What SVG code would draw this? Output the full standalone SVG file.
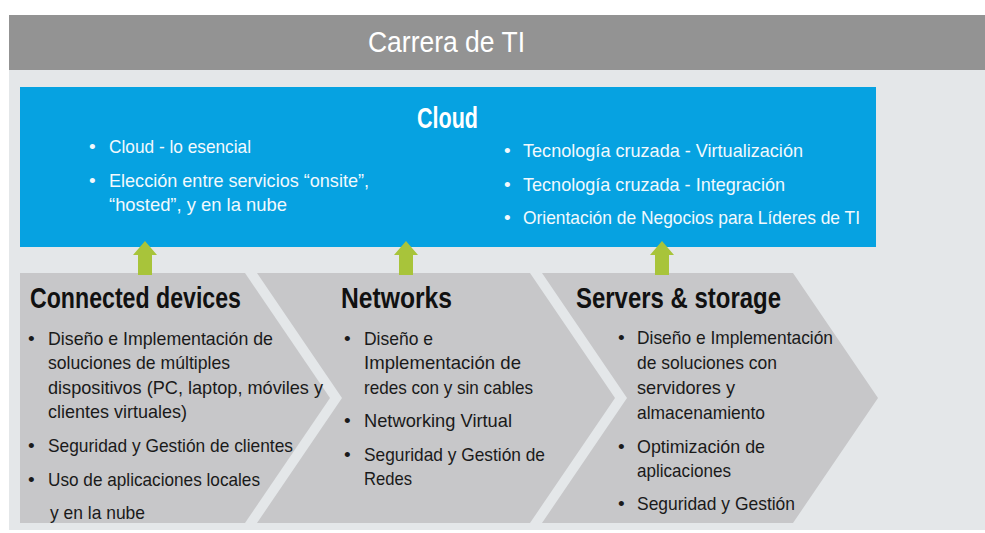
<svg xmlns="http://www.w3.org/2000/svg" width="985" height="533" viewBox="0 0 985 533">
<style>
.hdr{font-family:"Liberation Sans",Arial,sans-serif;fill:#ffffff;font-size:30px}
.h1{font-family:"Liberation Sans",Arial,sans-serif;font-weight:bold;fill:#ffffff;font-size:29px}
.h2{font-family:"Liberation Sans",Arial,sans-serif;font-weight:bold;fill:#111111;font-size:30px}
.w{font-family:"Liberation Sans",Arial,sans-serif;fill:#f2f9fd;font-size:19px}
.b{font-family:"Liberation Sans",Arial,sans-serif;fill:#1a1a1a;font-size:19px}
.chev{fill:#c7c7c9}
.arr{fill:#a8c43a}
</style>
<rect x="0" y="0" width="985" height="533" fill="#ffffff"/>
<rect x="9" y="70" width="976" height="460" fill="#e4e7e9"/>
<g id="header">
<rect x="9" y="15" width="976" height="55" fill="#939393"/>
<text class="hdr" x="368" y="52" textLength="157" lengthAdjust="spacingAndGlyphs">Carrera de TI</text>
</g>
<g id="cloud">
<rect x="20" y="87" width="856" height="160" fill="#06a2e1"/>
<text class="h1" x="417" y="128" textLength="61" lengthAdjust="spacingAndGlyphs">Cloud</text>
<text class="w" x="89" y="153">•</text>
<text class="w" x="109" y="153" textLength="142" lengthAdjust="spacingAndGlyphs">Cloud - lo esencial</text>
<text class="w" x="89" y="187">•</text>
<text class="w" x="109" y="187" textLength="260" lengthAdjust="spacingAndGlyphs">Elección entre servicios “onsite”,</text>
<text class="w" x="109" y="211" textLength="178" lengthAdjust="spacingAndGlyphs">“hosted”, y en la nube</text>
<text class="w" x="504" y="157">•</text>
<text class="w" x="523" y="157" textLength="280" lengthAdjust="spacingAndGlyphs">Tecnología  cruzada  - Virtualización</text>
<text class="w" x="504" y="191">•</text>
<text class="w" x="523" y="191" textLength="262" lengthAdjust="spacingAndGlyphs">Tecnología  cruzada  - Integración</text>
<text class="w" x="504" y="224">•</text>
<text class="w" x="523" y="224" textLength="337" lengthAdjust="spacingAndGlyphs">Orientación  de Negocios para Líderes de TI</text>
</g>
<g id="connected-devices">
<polygon class="chev" points="20,273 245,273 330,398 245,523 20,523"/>
<text class="h2" x="30" y="308" textLength="211" lengthAdjust="spacingAndGlyphs">Connected devices</text>
<text class="b" x="28" y="345">•</text>
<text class="b" x="48" y="345" textLength="225" lengthAdjust="spacingAndGlyphs">Diseño e Implementación  de</text>
<text class="b" x="48" y="369" textLength="182" lengthAdjust="spacingAndGlyphs">soluciones de múltiples</text>
<text class="b" x="48" y="394" textLength="275" lengthAdjust="spacingAndGlyphs">dispositivos (PC, laptop, móviles y</text>
<text class="b" x="48" y="418" textLength="139" lengthAdjust="spacingAndGlyphs">clientes virtuales)</text>
<text class="b" x="28" y="452">•</text>
<text class="b" x="48" y="452" textLength="245" lengthAdjust="spacingAndGlyphs">Seguridad y Gestión de clientes</text>
<text class="b" x="28" y="486">•</text>
<text class="b" x="48" y="486" textLength="212" lengthAdjust="spacingAndGlyphs">Uso de aplicaciones  locales</text>
<text class="b" x="50" y="519" textLength="95" lengthAdjust="spacingAndGlyphs">y en la nube</text>
</g>
<g id="networks">
<polygon class="chev" points="257,273 530,273 615,398 530,523 257,523 342,398"/>
<text class="h2" x="341" y="308" textLength="111" lengthAdjust="spacingAndGlyphs">Networks</text>
<text class="b" x="344" y="345">•</text>
<text class="b" x="364" y="345" textLength="69" lengthAdjust="spacingAndGlyphs">Diseño e</text>
<text class="b" x="364" y="369" textLength="157" lengthAdjust="spacingAndGlyphs">Implementación   de</text>
<text class="b" x="364" y="394" textLength="169" lengthAdjust="spacingAndGlyphs">redes con y sin cables</text>
<text class="b" x="344" y="427">•</text>
<text class="b" x="364" y="427" textLength="148" lengthAdjust="spacingAndGlyphs">Networking Virtual</text>
<text class="b" x="344" y="461">•</text>
<text class="b" x="364" y="461" textLength="181" lengthAdjust="spacingAndGlyphs">Seguridad  y Gestión de</text>
<text class="b" x="364" y="485" textLength="48" lengthAdjust="spacingAndGlyphs">Redes</text>
</g>
<g id="servers-storage">
<polygon class="chev" points="542,273 793,273 878,398 793,523 542,523 627,398"/>
<text class="h2" x="576" y="308" textLength="205" lengthAdjust="spacingAndGlyphs">Servers &amp; storage</text>
<text class="b" x="618" y="344">•</text>
<text class="b" x="637" y="344" textLength="196" lengthAdjust="spacingAndGlyphs">Diseño e Implementación</text>
<text class="b" x="637" y="369" textLength="140" lengthAdjust="spacingAndGlyphs">de soluciones con</text>
<text class="b" x="637" y="394" textLength="98" lengthAdjust="spacingAndGlyphs">servidores y</text>
<text class="b" x="637" y="419" textLength="128" lengthAdjust="spacingAndGlyphs">almacenamiento</text>
<text class="b" x="618" y="453">•</text>
<text class="b" x="637" y="453" textLength="128" lengthAdjust="spacingAndGlyphs">Optimización  de</text>
<text class="b" x="637" y="477" textLength="94" lengthAdjust="spacingAndGlyphs">aplicaciones</text>
<text class="b" x="618" y="510">•</text>
<text class="b" x="637" y="510" textLength="158" lengthAdjust="spacingAndGlyphs">Seguridad y Gestión</text>
</g>
<g id="connectors">
<polygon class="arr" points="145,241 157,255 152,255 152,275 138,275 138,255 133,255"/>
<polygon class="arr" points="406,241 418,255 413,255 413,275 399,275 399,255 394,255"/>
<polygon class="arr" points="662,241 674,255 669,255 669,275 655,275 655,255 650,255"/>
</g>
</svg>
